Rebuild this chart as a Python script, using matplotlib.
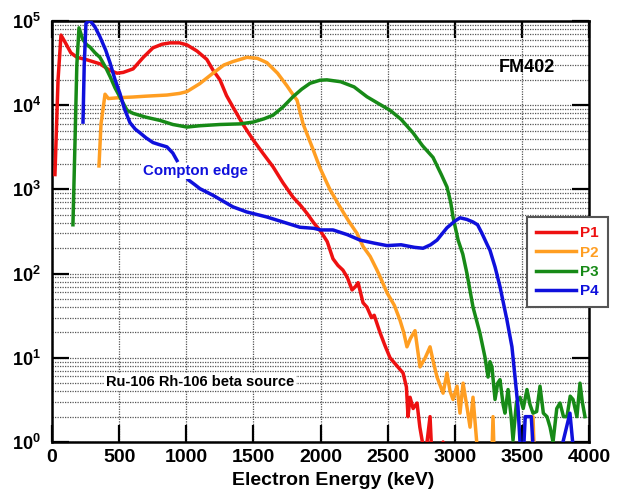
import numpy as np
import matplotlib
matplotlib.use("Agg")
import matplotlib.pyplot as plt
from matplotlib.ticker import LogLocator, FixedLocator, NullFormatter

plt.rcParams['font.family'] = ['Liberation Sans', 'DejaVu Sans']
plt.rcParams['font.weight'] = 'bold'
plt.rcParams['mathtext.fontset'] = 'custom'
plt.rcParams['mathtext.rm'] = 'Liberation Sans:bold'
plt.rcParams['mathtext.bf'] = 'Liberation Sans:bold'
plt.rcParams['mathtext.default'] = 'bf'

# ---------------- data ----------------
p1_x = [22, 45, 67, 100, 140, 186, 250, 357, 430, 484, 530, 604, 680, 752, 820, 879, 950,
        1005, 1080, 1153, 1200, 1251, 1300, 1348, 1420, 1497, 1570, 1646, 1720, 1795, 1850,
        1899, 1950, 2000, 2050, 2093, 2130, 2167, 2200, 2235, 2260, 2280, 2317, 2346, 2380,
        2400, 2443, 2480, 2518, 2570, 2615, 2640, 2652, 2667, 2690, 2719, 2740, 2764, 2790,
        2816, 2840, 2900, 2913, 2925]
p1_y = [1500, 20000, 68000, 55000, 42000, 37000, 35000, 31000, 26000, 24000, 24500, 27000,
        37000, 48000, 53000, 55000, 55000, 52000, 44000, 35000, 26000, 20000, 13000, 9500,
        6000, 3900, 2700, 1860, 1200, 810, 650, 520, 400, 320, 240, 150, 125, 110, 90, 64,
        70, 78, 45, 40, 30, 32, 20, 14, 10, 8, 6.6, 4.5, 2.0, 3.4, 2.5, 2.9, 1.5, 0.9, 0.9,
        2.0, 0.3, 0.3, 1.0, 0.3]

p2_x = [350, 365, 395, 420, 506, 600, 700, 856, 950, 1005, 1100, 1199, 1280, 1348, 1452,
        1530, 1601, 1680, 1750, 1800, 1825, 1870, 1944, 1996, 2070, 2145, 2210, 2272, 2317,
        2370, 2421, 2460, 2496, 2550, 2592, 2620, 2644, 2670, 2704, 2741, 2780, 2816, 2840,
        2868, 2913, 2942, 2965, 2987, 3017, 3039, 3062, 3091, 3114, 3136, 3166, 3190, 3270,
        3285, 3300, 3570, 3583, 3600]
p2_y = [1900, 6000, 13500, 12000, 12300, 12500, 12800, 13200, 13800, 14500, 18000, 24000,
        30000, 33000, 37000, 36000, 32000, 24000, 17000, 13000, 11500, 6000, 3000, 1800,
        1000, 620, 420, 300, 210, 160, 110, 80, 59, 42, 28, 20, 13.5, 17, 21, 7.8, 10, 13.5,
        9, 5.9, 3.8, 6.6, 4, 3.2, 4.6, 2.2, 5.0, 2.6, 1.5, 3.4, 0.9, 0.3, 0.3, 2.0, 0.3,
        0.3, 2.0, 0.3]

p3_x = [156, 170, 185, 201, 230, 260, 283, 320, 357, 400, 432, 470, 506, 559, 604, 700, 804,
        900, 1005, 1100, 1251, 1400, 1497, 1580, 1646, 1720, 1795, 1860, 1922, 1996, 2048,
        2150, 2250, 2346, 2430, 2518, 2600, 2689, 2760, 2838, 2900, 2942, 2970, 2987, 3025,
        3060, 3091, 3136, 3188, 3225, 3248, 3262, 3277, 3300, 3320, 3337, 3360, 3374, 3397,
        3420, 3434, 3460, 3486, 3510, 3538, 3560, 3583, 3610, 3635, 3660, 3687, 3710, 3732,
        3760, 3784, 3810, 3836, 3860, 3881, 3910, 3933, 3950, 3970]
p3_y = [380, 3000, 30000, 83000, 60000, 52000, 49000, 42000, 37000, 28000, 22000, 16000,
        12500, 8700, 8000, 7200, 6600, 5900, 5500, 5700, 5900, 6000, 6300, 6900, 7600, 9500,
        12600, 15500, 18200, 19800, 20000, 19000, 16500, 12600, 10500, 8700, 6800, 4700,
        3300, 2400, 1500, 1070, 700, 470, 250, 170, 100, 40, 19.5, 10.2, 5.9, 9, 7.8, 3.2,
        5, 5.5, 2.8, 2.2, 4.2, 2.0, 1.05, 3.0, 3.4, 2.5, 4.2, 2.8, 2.2, 2.3, 4.6, 2.2, 2.0,
        1.5, 1.0, 2.5, 2.9, 2.0, 2.0, 3.5, 3.2, 2.0, 5.0, 3.0, 2.0]

p4_x = [231, 240, 253, 276, 290, 320, 357, 400, 432, 470, 506, 540, 581, 620, 655, 700, 752,
        800, 856, 900, 931, 970, 1015, 1060, 1102, 1200, 1348, 1450, 1601, 1700, 1847, 1950,
        2000, 2093, 2200, 2294, 2400, 2496, 2600, 2700, 2764, 2820, 2868, 2942, 3000, 3039,
        3090, 3136, 3170, 3203, 3248, 3262, 3300, 3337, 3389, 3426, 3449, 3471, 3486, 3500,
        3525, 3538, 3570, 3583, 3600, 3790, 3806, 3858, 3881, 3900]
p4_y = [6300, 30000, 94000, 100000, 98000, 85000, 65000, 45000, 32000, 20000, 13800, 9000,
        6200, 5200, 4700, 4100, 3600, 3400, 3200, 2700, 2200, np.nan, 1300, 1150, 1020, 850,
        620, 540, 470, 420, 355, 345, 330, 330, 290, 250, 230, 215, 220, 205, 200, 220, 250,
        350, 420, 460, 440, 410, 380, 300, 210, 190, 120, 70, 28, 13.5, 5.9, 2.6, 1.0, 0.3,
        2.0, 2.0, 2.0, 0.9, 0.3, 0.3, 1.0, 2.2, 0.9, 0.3]

series = [("P1", p1_x, p1_y, "#ee1111"),
          ("P2", p2_x, p2_y, "#ff9e22"),
          ("P3", p3_x, p3_y, "#178a17"),
          ("P4", p4_x, p4_y, "#0f10dc")]

x_ticks = [0, 500, 1000, 1500, 2000, 2500, 3000, 3500, 4000]

# ---------------- figure ----------------
fig = plt.figure(figsize=(6.17, 4.94), dpi=100)
ax = fig.add_axes([52/617, 1-442/494, (589-52)/617, (442-21)/494])

for name, xs, ys, c in series:
    ax.plot(xs, ys, color=c, lw=2.5, label=name, solid_joinstyle='round', zorder=3)

ax.set_yscale('log')
ax.set_xlim(0, 4000)
ax.set_ylim(1, 1e5)

ax.xaxis.set_major_locator(FixedLocator(x_ticks))
ax.yaxis.set_major_locator(LogLocator(base=10, numticks=10))
ax.yaxis.set_minor_locator(LogLocator(base=10, subs=np.arange(2, 10), numticks=20))
ax.yaxis.set_minor_formatter(NullFormatter())

ax.tick_params(which='major', direction='in', length=12, width=1.6,
               top=True, right=True, labelsize=13, pad=5)
ax.tick_params(axis='x', which='major', labelsize=14, pad=5)
ax.tick_params(axis='y', which='major', pad=8)
ax.tick_params(which='minor', length=0)

ax.grid(True, which='major', axis='x', linestyle=(0, (1, 1)), color='#555555', lw=0.9, zorder=1)
ax.grid(True, which='both', axis='y', linestyle=(0, (1, 1)), color='#555555', lw=0.9, zorder=1)
ax.set_axisbelow(True)

for s in ax.spines.values():
    s.set_linewidth(1.8)

for lab in ax.get_xticklabels() + ax.get_yticklabels():
    lab.set_fontweight('bold')

ax.set_xlabel("Electron Energy (keV)", fontsize=14, fontweight='bold')
ax.xaxis.set_label_coords((333-52)/537, -(480-442)/421)
ax.xaxis.label.set_va('center')

ax.text(3538, 28000, "FM402", fontsize=13, fontweight='bold', ha='center', va='center')
ax.text(1065, 1660, "Compton edge", fontsize=10.8, fontweight='bold', color='#0f10dc',
        ha='center', va='center', zorder=5,
        bbox=dict(facecolor='white', edgecolor='none', pad=1))
ax.text(1102, 5.2, "Ru-106 Rh-106 beta source", fontsize=10.5, fontweight='bold',
        ha='center', va='center', zorder=5,
        bbox=dict(facecolor='white', edgecolor='none', pad=1))

leg = ax.legend(loc='upper left', bbox_to_anchor=(527/617, 1-217/494),
                bbox_transform=fig.transFigure, fontsize=11, handlelength=2.6,
                labelspacing=0.35, handletextpad=0.3, borderpad=0.6, borderaxespad=0,
                fancybox=False, framealpha=1, edgecolor='#555555')
leg.get_frame().set_linewidth(1.5)
leg.set_zorder(10)
for t, (_, _, _, c) in zip(leg.get_texts(), series):
    t.set_color(c)
    t.set_fontweight('bold')

fig.savefig("out.png", dpi=100)
